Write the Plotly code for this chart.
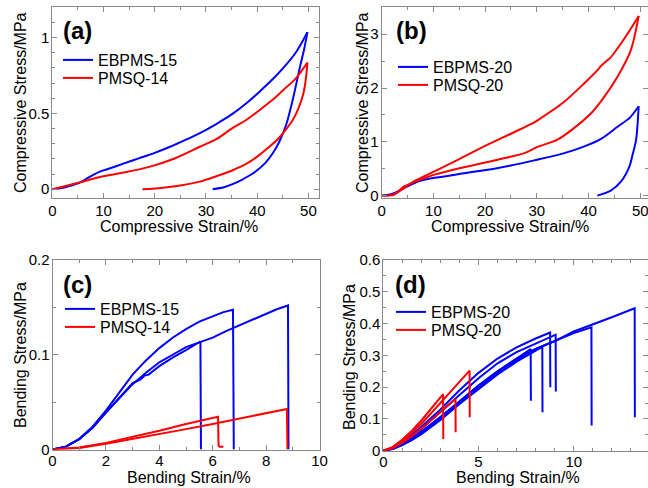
import plotly.graph_objects as go

# ---------------- Panel (a): compressive loading / unloading ----------------
a_ebpms15_load_strain = [0, 1.5, 3, 4.5, 5.4, 6.5, 8, 9.3, 11, 14, 17, 20, 23, 26, 28.8, 32, 35.3, 38, 40.5,
                         43, 45.1, 47.5, 49.8]
a_ebpms15_load_stress = [0, 0.006, 0.018, 0.033, 0.044, 0.065, 0.095, 0.116, 0.135, 0.170, 0.205, 0.24, 0.28,
                         0.325, 0.37, 0.43, 0.50, 0.57, 0.645, 0.725, 0.80, 0.90, 1.036]
a_ebpms15_unload_strain = [49.8, 49.2, 48.3, 47.0, 45.7, 44.4, 43.1, 41.5, 39.2, 37, 35.3, 33.5, 31.3]
a_ebpms15_unload_stress = [1.036, 0.93, 0.80, 0.60, 0.43, 0.32, 0.24, 0.17, 0.105, 0.062, 0.035, 0.013, 0]
a_pmsq14_load_strain = [0, 3, 5.4, 9.3, 14, 19.1, 24, 28.8, 32, 35.3, 38, 40.5, 43, 45.1, 47.5, 49.8]
a_pmsq14_load_stress = [0, 0.025, 0.045, 0.08, 0.11, 0.149, 0.204, 0.28, 0.33, 0.406, 0.46, 0.523, 0.59, 0.655,
                        0.73, 0.835]
a_pmsq14_unload_strain = [49.8, 49.5, 49, 48, 47, 45.5, 44, 42, 40, 38, 35, 32, 28.8, 25, 22, 19.5, 17.6]
a_pmsq14_unload_stress = [0.835, 0.73, 0.63, 0.53, 0.46, 0.39, 0.33, 0.27, 0.215, 0.17, 0.122, 0.085, 0.05,
                          0.025, 0.011, 0.003, 0]

# ---------------- Panel (b) ----------------
b_ebpms20_load_strain = [0, 2, 4.35, 7, 10.2, 15, 19.8, 25, 29.5, 35, 39.2, 42.5, 45.6, 48, 49.7]
b_ebpms20_load_stress = [0, 0.03, 0.14, 0.26, 0.33, 0.40, 0.47, 0.56, 0.655, 0.78, 0.915, 1.06, 1.28, 1.45, 1.66]
b_ebpms20_unload_strain = [49.7, 49.2, 48.5, 47.9, 46.3, 44.3, 41.7]
b_ebpms20_unload_stress = [1.66, 1.04, 0.75, 0.54, 0.265, 0.093, 0]
b_pmsq20_load_strain = [0, 1.5, 2.4, 4.35, 6.3, 10.2, 15, 19.8, 25, 29.5, 30, 35, 39.2, 42, 42.3, 43.7, 44.2,
                        47, 49.7]
b_pmsq20_load_stress = [0, 0.0, 0.02, 0.14, 0.27, 0.45, 0.68, 0.915, 1.15, 1.36, 1.39, 1.72, 2.09, 2.36, 2.40,
                        2.52, 2.56, 2.93, 3.34]
b_pmsq20_unload_strain = [49.7, 48.2, 45.6, 43, 40.5, 37, 34.0, 30, 27.6, 23, 19.8, 15, 10.2, 7, 4.35, 3, 2]
b_pmsq20_unload_stress = [3.34, 2.71, 2.21, 1.83, 1.53, 1.24, 1.04, 0.90, 0.79, 0.68, 0.61, 0.51, 0.39, 0.28,
                          0.17, 0.06, 0.0]

# ---------------- Panel (c): bending, three EBPMS-15 and two PMSQ-14 specimens ----------------
c_ebpms15_strain = [
    [0, 0.5, 1, 1.5, 2, 2.5, 3, 3.3, 3.45, 3.6, 4, 4.5, 4.7, 5, 5.54, 5.56],
    [0, 0.5, 1, 1.5, 2, 2.5, 3, 3.5, 4, 4.5, 5, 5.5, 6, 6.4, 6.76, 6.79],
    [0, 0.5, 1, 1.5, 2, 2.5, 3, 3.5, 4, 4.5, 5, 5.5, 6, 6.5, 7, 7.5, 8, 8.4, 8.82, 8.84],
]
c_ebpms15_stress = [
    [0, 0.003, 0.011, 0.023, 0.039, 0.055, 0.070, 0.074, 0.078, 0.079, 0.088, 0.097, 0.100, 0.105, 0.114, 0],
    [0, 0.003, 0.011, 0.024, 0.041, 0.060, 0.079, 0.094, 0.107, 0.118, 0.127, 0.135, 0.141, 0.145, 0.1475, 0],
    [0, 0.003, 0.011, 0.023, 0.039, 0.054, 0.069, 0.081, 0.092, 0.100, 0.108, 0.113, 0.118, 0.125, 0.131,
     0.137, 0.143, 0.148, 0.152, 0],
]
c_pmsq14_strain = [
    [0, 1, 2, 3, 4, 5, 6.2, 6.22, 6.26, 6.4],
    [0, 1, 2, 3, 4, 5, 6, 7, 8, 8.78, 8.8],
]
c_pmsq14_stress = [
    [0, 0.002, 0.007, 0.013, 0.0198, 0.027, 0.0346, 0.004, 0.003, 0.003],
    [0, 0.0015, 0.006, 0.011, 0.0163, 0.0215, 0.027, 0.0325, 0.038, 0.0427, 0],
]

# ---------------- Panel (d): six EBPMS-20 and three PMSQ-20 specimens ----------------
d_ebpms20_strain = [
    [0, 0.5, 1, 1.5, 2, 3, 4, 5, 6, 7, 7.74, 7.75],
    [0, 0.5, 1, 1.5, 2, 3, 4, 5, 6, 7, 8, 8.35, 8.36],
    [0, 0.5, 1, 1.5, 2, 3, 4, 5, 6, 7, 8, 8.76, 8.77],
    [0, 0.5, 1, 1.5, 2, 3, 4, 5, 6, 7, 8, 9.05, 9.06],
    [0, 0.5, 1, 1.5, 2, 3, 4, 5, 6, 7, 8, 9, 10, 10.93, 10.94],
    [0, 0.5, 1, 1.5, 2, 3, 4, 5, 6, 7, 8, 9, 10, 11, 12, 13.2, 13.21],
]
d_ebpms20_stress = [
    [0, 0.006, 0.02, 0.037, 0.058, 0.105, 0.155, 0.205, 0.25, 0.29, 0.32, 0.157],
    [0, 0.005, 0.018, 0.033, 0.052, 0.097, 0.147, 0.195, 0.24, 0.28, 0.315, 0.327, 0.121],
    [0, 0.009, 0.028, 0.05, 0.075, 0.13, 0.19, 0.245, 0.29, 0.325, 0.353, 0.372, 0.2],
    [0, 0.008, 0.025, 0.045, 0.068, 0.12, 0.175, 0.228, 0.275, 0.31, 0.338, 0.365, 0.186],
    [0, 0.007, 0.022, 0.04, 0.06, 0.105, 0.155, 0.205, 0.25, 0.29, 0.32, 0.345, 0.37, 0.388, 0.079],
    [0, 0.006, 0.02, 0.036, 0.055, 0.1, 0.15, 0.2, 0.245, 0.285, 0.32, 0.345, 0.375, 0.397, 0.42, 0.448, 0.105],
]
d_pmsq20_strain = [
    [0, 0.5, 1, 1.5, 2, 2.5, 3.14, 3.15],
    [0, 0.5, 1, 1.5, 2, 2.5, 3, 3.4, 3.79, 3.8],
    [0, 0.5, 1, 1.5, 2, 2.5, 3, 3.5, 4, 4.53, 4.54],
]
d_pmsq20_stress = [
    [0, 0.012, 0.035, 0.063, 0.095, 0.13, 0.178, 0.037],
    [0, 0.008, 0.025, 0.046, 0.07, 0.095, 0.12, 0.142, 0.163, 0.058],
    [0, 0.01, 0.03, 0.056, 0.085, 0.117, 0.15, 0.183, 0.215, 0.252, 0.105],
]

# ---------------- Axis ticks / labels ----------------
a_xticks = [0, 10, 20, 30, 40, 50]
a_yticks = [0, 0.5, 1]
a_yticktext = ["0", "0.5", "1"]
b_xticks = [0, 10, 20, 30, 40, 50]
b_yticks = [0, 1, 2, 3]
c_xticks = [0, 2, 4, 6, 8, 10]
c_yticks = [0, 0.1, 0.2]
c_yticktext = ["0", "0.1", "0.2"]
d_xticks = [0, 5, 10]
d_yticks = [0, 0.1, 0.2, 0.3, 0.4, 0.5, 0.6]
d_yticktext = ["0", "0.1", "0.2", "0.3", "0.4", "0.5", "0.6"]

BLUE = "#0000FF"
RED = "#FF0000"
FONT = "Liberation Sans, Arial, sans-serif"
W, H = 648, 488

fig = go.Figure()


def add(x, y, color, name, xa, ya, leg, show, shape="linear"):
    fig.add_trace(go.Scatter(x=x, y=y, mode="lines",
                             line=dict(color=color, width=2, shape=shape, smoothing=0.8),
                             name=name, xaxis=xa, yaxis=ya, legend=leg, showlegend=show))


add(a_ebpms15_load_strain, a_ebpms15_load_stress, BLUE, "EBPMS-15", "x", "y", "legend", True, "spline")
add(a_ebpms15_unload_strain, a_ebpms15_unload_stress, BLUE, "EBPMS-15", "x", "y", "legend", False, "spline")
add(a_pmsq14_load_strain, a_pmsq14_load_stress, RED, "PMSQ-14", "x", "y", "legend2", True, "spline")
add(a_pmsq14_unload_strain, a_pmsq14_unload_stress, RED, "PMSQ-14", "x", "y", "legend2", False, "spline")
add(b_ebpms20_load_strain, b_ebpms20_load_stress, BLUE, "EBPMS-20", "x2", "y2", "legend3", True, "spline")
add(b_ebpms20_unload_strain, b_ebpms20_unload_stress, BLUE, "EBPMS-20", "x2", "y2", "legend3", False, "spline")
add(b_pmsq20_load_strain, b_pmsq20_load_stress, RED, "PMSQ-20", "x2", "y2", "legend4", True, "spline")
add(b_pmsq20_unload_strain, b_pmsq20_unload_stress, RED, "PMSQ-20", "x2", "y2", "legend4", False, "spline")
for i, (xs, ys) in enumerate(zip(c_ebpms15_strain, c_ebpms15_stress)):
    add(xs, ys, BLUE, "EBPMS-15", "x3", "y3", "legend5", i == 0)
for i, (xs, ys) in enumerate(zip(c_pmsq14_strain, c_pmsq14_stress)):
    add(xs, ys, RED, "PMSQ-14", "x3", "y3", "legend6", i == 0)
for i, (xs, ys) in enumerate(zip(d_ebpms20_strain, d_ebpms20_stress)):
    add(xs, ys, BLUE, "EBPMS-20", "x4", "y4", "legend7", i == 0)
for i, (xs, ys) in enumerate(zip(d_pmsq20_strain, d_pmsq20_stress)):
    add(xs, ys, RED, "PMSQ-20", "x4", "y4", "legend8", i == 0)

AXCOL = "#8a8a8a"


def axis(domain, rng, tickvals, ticktext, minor_dtick, anchor, standoff=0):
    return dict(domain=domain, range=rng, tickmode="array", tickvals=tickvals, ticktext=ticktext,
                ticks="inside", ticklen=5, tickcolor=AXCOL, tickwidth=1,
                minor=dict(dtick=minor_dtick, tick0=0, ticks="inside", ticklen=3, tickcolor=AXCOL),
                showline=True, linecolor=AXCOL, linewidth=1, mirror="ticks",
                showgrid=False, zeroline=False, anchor=anchor, automargin=False,
                ticklabeloverflow="allow", ticklabelstandoff=standoff,
                tickfont=dict(family=FONT, size=15, color="black"))


def px(v):
    return v / W


def py(v):
    return 1 - v / H


layout = dict(
    width=W, height=H, margin=dict(l=0, r=0, t=0, b=0, autoexpand=False),
    plot_bgcolor="white", paper_bgcolor="white",
    font=dict(family=FONT, color="black"),
    xaxis=axis([px(52.3), px(318.7)], [0, 52], a_xticks, [str(v) for v in a_xticks], 5, "y", -1),
    yaxis=axis([py(198.3), py(7.3)], [-0.06, 1.2], a_yticks, a_yticktext, 0.1, "x", -1),
    xaxis2=axis([px(381.7), 1.0], [0, 51.5], b_xticks, [str(v) for v in b_xticks], 5, "y2", -1),
    yaxis2=axis([py(198.3), py(7.3)], [-0.05, 3.5], b_yticks, [str(v) for v in b_yticks], 0.5, "x2", -1),
    xaxis3=axis([px(52.5), px(319.5)], [0, 10], c_xticks, [str(v) for v in c_xticks], 1, "y3", -3),
    yaxis3=axis([py(449.5), py(260)], [0, 0.2], c_yticks, c_yticktext, 0.05, "x3", -1),
    xaxis4=axis([px(383.3), 1.0], [0, 13.9], d_xticks, [str(v) for v in d_xticks], 1, "y4", -3),
    yaxis4=axis([py(450.7), py(260)], [0, 0.6], d_yticks, d_yticktext, 0.05, "x4", -1),
)

leg_pos = {
    "legend": (58, 60), "legend2": (58, 78),
    "legend3": (393, 67), "legend4": (393, 85),
    "legend5": (60, 309), "legend6": (60, 327),
    "legend7": (391, 312), "legend8": (391, 330),
}
for k, (lx, ly) in leg_pos.items():
    layout[k] = dict(x=px(lx), y=py(ly), xanchor="left", yanchor="middle", xref="paper", yref="paper",
                     bgcolor="rgba(0,0,0,0)", borderwidth=0,
                     font=dict(family=FONT, size=16, color="black"))

fig.update_layout(**layout)

annotations = [
    dict(text="<b>(a)</b>", x=px(77), y=py(30)),
    dict(text="<b>(b)</b>", x=px(411), y=py(30)),
    dict(text="<b>(c)</b>", x=px(77), y=py(284)),
    dict(text="<b>(d)</b>", x=px(410), y=py(284)),
]
for a in annotations:
    a.update(xref="paper", yref="paper", showarrow=False, xanchor="center", yanchor="middle",
             font=dict(family=FONT, size=24, color="black"))

titles = [
    dict(text="Compressive Strain/%", x=px(179), y=py(226), textangle=0),
    dict(text="Compressive Stress/MPa", x=px(20), y=py(103), textangle=-90),
    dict(text="Compressive Strain/%", x=px(510), y=py(226), textangle=0),
    dict(text="Compressive Stress/MPa", x=px(362), y=py(103), textangle=-90),
    dict(text="Bending Strain/%", x=px(189), y=py(477), textangle=0),
    dict(text="Bending Stress/MPa", x=px(20), y=py(355), textangle=-90),
    dict(text="Bending Strain/%", x=px(518), y=py(477), textangle=0),
    dict(text="Bending Stress/MPa", x=px(349), y=py(357), textangle=-90),
]
for t in titles:
    t.update(xref="paper", yref="paper", showarrow=False, xanchor="center", yanchor="middle",
             font=dict(family=FONT, size=16, color="black"))

fig.update_layout(annotations=annotations + titles)

fig.write_html("out.html", config={"displayModeBar": False},
               post_script="document.body.style.margin='0';document.body.style.overflow='hidden';")
